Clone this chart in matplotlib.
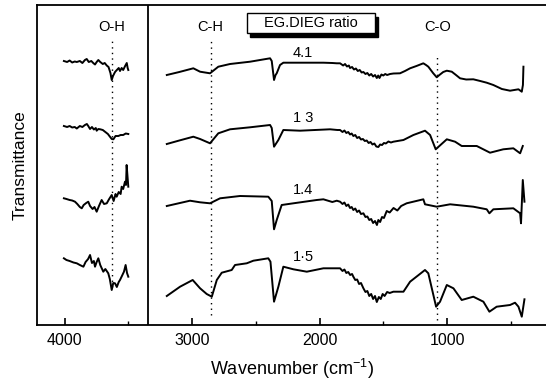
import numpy as np
import matplotlib
matplotlib.use("Agg")
import matplotlib.pyplot as plt
from matplotlib.patches import Rectangle

plt.rcParams['font.family'] = ['Liberation Sans', 'DejaVu Sans']
plt.rcParams['mathtext.default'] = 'regular'

# FTIR spectra, offset transmittance (arbitrary units)
# left window (O-H region)
oh_wn_41 = [4005, 3980, 3960, 3940, 3920, 3904, 3880, 3860, 3840, 3826, 3810, 3790, 3775, 3761,
            3748, 3735, 3720, 3700, 3685, 3669, 3655, 3640, 3630, 3620, 3604, 3590, 3575, 3565,
            3552, 3540, 3525, 3512, 3505, 3500]
oh_t_41 = [264, 263, 264.5, 262.5, 263.5, 263, 264, 262, 265, 266, 263, 264, 262, 260.5,
           263, 265, 263, 261, 262, 259.5, 258, 252, 245, 249, 253, 255, 257, 254,
           257, 255, 259, 262, 257, 255]

oh_wn_13 = [4005, 3980, 3960, 3940, 3920, 3904, 3880, 3860, 3840, 3825, 3814, 3800, 3785, 3770,
            3755, 3748, 3735, 3720, 3700, 3680, 3660, 3644, 3630, 3617, 3600, 3578, 3560, 3540,
            3520, 3500]
oh_t_13 = [199, 198, 199, 197.5, 198, 196.5, 199, 198, 200, 201, 199, 196, 198, 195.5,
           197, 194.3, 196, 195.7, 195, 193, 191, 188.3, 186, 185.7, 189, 189, 190, 190,
           191.5, 191]

oh_wn_14 = [4005, 3985, 3960, 3940, 3918, 3900, 3880, 3865, 3850, 3830, 3814, 3800, 3780, 3765,
            3748, 3730, 3709, 3690, 3669, 3650, 3630, 3615, 3600, 3591, 3575, 3560, 3552, 3540,
            3526, 3518, 3513, 3507, 3500]
oh_t_14 = [126.7, 126, 125, 124.5, 123.3, 121, 118, 116.7, 120, 122, 123.3, 119, 116, 118,
           113.3, 119, 125, 121, 121.7, 126, 130, 124, 131, 128.3, 133, 131, 138.3, 136,
           143.3, 140, 160, 150, 138.3]

oh_wn_15 = [4005, 3985, 3960, 3930, 3904, 3880, 3852, 3835, 3815, 3800, 3785, 3770, 3761, 3748,
            3735, 3720, 3696, 3680, 3657, 3645, 3630, 3618, 3604, 3590, 3575, 3565, 3550, 3534,
            3521, 3510, 3500]
oh_t_15 = [66.7, 65, 64, 62.5, 61.7, 60, 58.3, 63, 66, 70, 62, 64, 58.3, 63,
           66.7, 60, 53.3, 56, 51.7, 46, 35, 42, 41.7, 38, 43, 45, 49, 53.3,
           60, 52, 48.3]

# right window (3200 - 400 cm-1)
wn_41 = [3198, 3100, 2990, 2937, 2859, 2794, 2702, 2545, 2388, 2375, 2357, 2345, 2336, 2310,
         2284, 2153, 1970, 1900, 1865, 1839, 1815, 1800, 1785, 1770, 1761, 1745, 1730, 1715,
         1700, 1685, 1670, 1656, 1640, 1625, 1610, 1595, 1580, 1565, 1551, 1540, 1530, 1515,
         1500, 1485, 1470, 1447, 1420, 1369, 1330, 1290, 1240, 1186, 1165, 1147, 1110, 1081,
         1060, 1030, 1002, 963, 930, 898, 850, 794, 740, 689, 637, 570, 506, 440, 414, 405, 401]
t_41 = [250, 253, 256.7, 253.3, 251.7, 258.3, 261, 263.3, 266.7, 264, 245, 250, 251.7, 260,
        262.3, 262.3, 262.3, 262, 261.7, 261.7, 259.5, 261, 258.5, 259.5, 257, 258, 255.5, 256.5,
        254, 255, 252.5, 253, 251, 252, 249.5, 251, 248.5, 250, 247, 249.5, 247, 250.5,
        249.5, 251, 250, 251, 251.5, 251.7, 254, 256.7, 259, 261.7, 260, 258.3, 252, 247.7,
        250, 253, 254.3, 253.3, 250, 246.7, 245.5, 245.7, 244, 242.3, 240, 236, 234.3, 235.7, 233.3, 240, 258.3]

wn_13 = [3198, 3100, 2990, 2937, 2859, 2794, 2702, 2545, 2388, 2375, 2357, 2323, 2284, 2153,
         1918, 1860, 1839, 1820, 1805, 1790, 1775, 1761, 1748, 1735, 1720, 1705, 1690, 1675,
         1660, 1645, 1630, 1615, 1600, 1585, 1570, 1555, 1539, 1525, 1510, 1495, 1480, 1460,
         1440, 1421, 1342, 1264, 1173, 1133, 1089, 1002, 937, 885, 767, 663, 559, 480, 427, 406]
t_13 = [181, 184.5, 188.3, 186, 181.7, 191.7, 195.7, 197.7, 200, 197, 178.3, 185, 195, 194.3,
        195.7, 195, 195, 193, 194.5, 192, 193, 190.5, 191.5, 189, 190, 187, 188, 185.5,
        186, 184, 184.5, 182, 183, 180.5, 181.5, 178.5, 178, 180.5, 180, 182, 181.5, 183.5,
        182.5, 183.3, 185, 190, 194.3, 190, 175.7, 185.7, 183.3, 179, 179, 172.3, 175.7, 176.7, 171.7, 179]

wn_14 = [3198, 3016, 2937, 2859, 2780, 2624, 2402, 2375, 2357, 2336, 2297, 2205, 2022, 1970,
         1900, 1865, 1839, 1820, 1805, 1790, 1775, 1761, 1748, 1735, 1720, 1705, 1690, 1675,
         1656, 1640, 1625, 1610, 1595, 1580, 1565, 1550, 1539, 1525, 1510, 1495, 1473, 1450,
         1420, 1390, 1360, 1317, 1186, 1173, 1081, 976, 794, 689, 668, 637, 480, 427, 420, 406, 393]
t_14 = [119, 124.3, 122.7, 121.7, 126.7, 129, 128.3, 124, 95.7, 105, 120, 121.7, 125, 125.7,
        123, 124.3, 123.3, 121, 122.5, 119, 120.5, 117, 118, 115, 116.5, 113, 114.5, 111,
        111.7, 108, 108.5, 105, 106, 102, 104, 100, 105, 103, 108, 107, 114, 112.5,
        117, 114.5, 119, 121.7, 125.7, 120.7, 118.3, 120.7, 118.3, 115.7, 111.7, 115.7, 116.7, 111.7, 101.7, 145, 123.3]

wn_15 = [3198, 3094, 2995, 2937, 2885, 2845, 2806, 2767, 2689, 2663, 2571, 2519, 2402, 2385,
         2357, 2323, 2284, 2205, 2100, 1970, 1865, 1839, 1820, 1805, 1790, 1775, 1760, 1745,
         1735, 1720, 1705, 1690, 1675, 1656, 1640, 1625, 1610, 1595, 1580, 1565, 1551, 1535,
         1520, 1505, 1490, 1470, 1450, 1421, 1342, 1290, 1173, 1147, 1086, 1055, 1002, 950,
         885, 794, 715, 668, 611, 506, 467, 440, 414, 393]
t_15 = [29, 38.3, 45, 36.7, 31, 28.3, 45, 52.3, 55, 60, 61.7, 64.3, 66.7, 63.3,
        23.3, 38.3, 58.3, 55.7, 53.3, 56.7, 56.7, 56.7, 54, 55.5, 52, 53, 50, 51,
        48.3, 45, 45.5, 41, 42, 36.7, 33, 34, 29, 31, 26, 29, 23, 28,
        26, 31, 29, 33, 32, 33.3, 33.3, 43.3, 55, 51.7, 18.3, 23.3, 40, 36.7,
        25, 28.3, 23.3, 13.3, 18.3, 20, 22.3, 18.3, 8.3, 25.7]

ratio_labels = ['4.1', '1 3', '1.4', '1·5']
ratio_label_pos = [272, 207, 135, 68]

peak_names = ['O-H', 'C-H', 'C-O']
peak_wn = [3630, 2855, 1076]
peak_top = [285, 285, 268]
peak_bottom = [38, 10, 5]

break_wn = 3345

fig = plt.figure(figsize=(5.46, 3.81), dpi=100)
ax = fig.add_axes([37 / 546, 1 - 325 / 381, 1 - 37 / 546, 320 / 381])

lw = 1.4
for wl, tl, wr, tr in [(oh_wn_41, oh_t_41, wn_41, t_41),
                       (oh_wn_13, oh_t_13, wn_13, t_13),
                       (oh_wn_14, oh_t_14, wn_14, t_14),
                       (oh_wn_15, oh_t_15, wn_15, t_15)]:
    ax.plot(wl, tl, color='black', lw=lw)
    ax.plot(wr, tr, color='black', lw=lw)

for name, w, top, bot in zip(peak_names, peak_wn, peak_top, peak_bottom):
    ax.plot([w, w], [bot, top], color='black', lw=1.0, linestyle=(0, (1, 3)))
    ax.text(w, 298, name, ha='center', va='center', fontsize=10.5)

for lab, h in zip(ratio_labels, ratio_label_pos):
    ax.text(2129, h, lab, ha='center', va='center', fontsize=10.5)

# title box with drop shadow
ax.add_patch(Rectangle((1545, 288), 2569 - 1565, 20, facecolor='black', edgecolor='black', zorder=3))
ax.add_patch(Rectangle((1565, 292), 2569 - 1565, 20, facecolor='white', edgecolor='black', lw=1.0, zorder=4))
ax.text((2569 + 1565) / 2, 302, 'EG.DIEG ratio', ha='center', va='center', fontsize=10.5, zorder=5)

ax.axvline(break_wn, color='black', lw=1.3)

ax.set_xlim(4216, 224)
ax.set_ylim(0, 320)
ax.set_xticks([4000, 3000, 2000, 1000])
ax.set_xticks([3500, 2500, 1500, 500], minor=True)
ax.set_yticks([])
ax.tick_params(axis='x', which='major', direction='in', length=5, width=1.2, labelsize=11.5, pad=6)
ax.tick_params(axis='x', which='minor', direction='in', length=3, width=1.0)
ax.spines['right'].set_visible(False)
for s in ['left', 'top', 'bottom']:
    ax.spines[s].set_linewidth(1.3)

ax.set_xlabel('Wavenumber (cm$^{-1}$)', fontsize=13, labelpad=6)
ax.set_ylabel('Transmittance', fontsize=12.5, labelpad=7)

fig.savefig('out.png', dpi=100)
